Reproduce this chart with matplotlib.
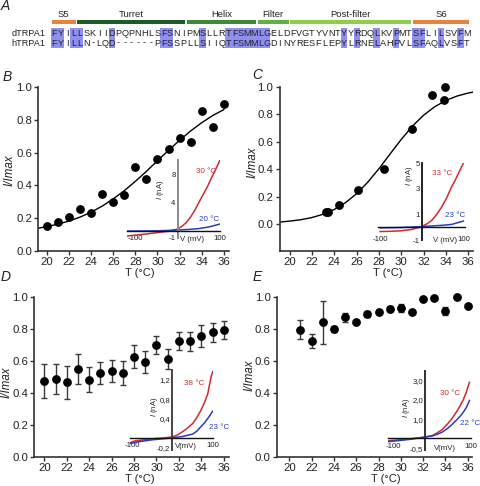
import matplotlib
matplotlib.use('Agg')
import matplotlib.pyplot as plt
from matplotlib.patches import Rectangle

plt.rcParams['font.family'] = ['Liberation Sans', 'DejaVu Sans']
plt.rcParams['mathtext.fontset'] = 'custom'
plt.rcParams['mathtext.rm'] = 'Liberation Sans'
plt.rcParams['mathtext.it'] = 'Liberation Sans:italic'

W, H = 480, 486

# ---------------- data ----------------
# Panel A: alignment
seq_names = ['dTRPA1', 'hTRPA1']
seq_d = 'FYILLSKIIDPQPNHLSFSNIPMSLLRTFSMMLGELDFVGTYVNTYYRDQLKVPMTSFLILSVFM'
seq_h = 'FYILLN-LQD------PFSSPLLSIIQTFSMMLGDINYRESFLEPYLRNELAHPVLSFAQLVSFT'
conserved = [1, 2, 4, 5, 10, 18, 19, 24, 28, 29, 30, 31, 32, 33, 34,
             46, 48, 51, 54, 57, 58, 61, 64]
domains = ['S5', 'Turret', 'Helix', 'Filter', 'Post-filter', 'S6']
domain_start = [1, 5, 22, 33, 38, 57]
domain_end = [4, 21, 32, 37, 56, 65]
domain_colors = ['#e8823c', '#1d5b2b', '#3d8a37', '#5fb143', '#8fce47', '#e8823c']

# Panel B
temp_b = [20, 21, 22, 23, 24, 25, 26, 27, 28, 29, 30, 31, 32, 33, 34, 35, 36]
norm_b = [0.155, 0.175, 0.208, 0.257, 0.234, 0.346, 0.297, 0.342, 0.515,
          0.442, 0.560, 0.623, 0.686, 0.664, 0.855, 0.754, 0.896]
fit_t_b = [19.2, 20, 21, 22, 23, 24, 25, 26, 27, 28, 29, 30, 31, 32, 33, 34, 35, 36]
fit_v_b = [0.139, 0.149, 0.164, 0.183, 0.207, 0.237, 0.274, 0.318, 0.368,
           0.425, 0.486, 0.550, 0.614, 0.675, 0.732, 0.782, 0.826, 0.862]
iv_v_b = [-120, -100, -75, -50, -25, 0, 10, 20, 30, 40, 50, 60, 70, 80, 90, 100]
iv_hot_b = [-0.75, -0.62, -0.46, -0.28, -0.10, 0.24, 0.62, 1.15, 1.9, 2.85,
            4.0, 5.1, 6.2, 7.5, 8.7, 10.0]
iv_v_b_cold = [-120, -50, 0, 25, 50, 75, 100]
iv_cold_b = [-0.05, -0.02, 0.1, 0.18, 0.3, 0.55, 0.95]

# Panel C
temp_c = [23.3, 23.4, 24.46, 26.16, 28.5, 30.95, 32.8, 33.8, 33.9]
norm_c = [0.088, 0.090, 0.136, 0.246, 0.404, 0.691, 0.944, 0.903, 1.0]
fit_t_c = [19.1, 20, 21, 22, 23, 24, 25, 26, 27, 28, 29, 30, 31, 32, 33, 34,
           35, 36, 36.4]
fit_v_c = [0.014, 0.021, 0.031, 0.047, 0.071, 0.106, 0.155, 0.221, 0.305,
           0.403, 0.511, 0.617, 0.714, 0.794, 0.856, 0.902, 0.934, 0.956, 0.962]
iv_v_c = [-100, -75, -50, -25, 0, 12, 24, 36, 48, 60, 72, 80, 88, 100]
iv_hot_c = [-0.34, -0.32, -0.28, -0.18, 0.05, 0.25, 0.53, 1.0, 1.58, 2.3,
            3.17, 3.65, 4.2, 5.0]
iv_v_c_cold = [-100, -50, 0, 25, 50, 72, 100]
iv_cold_c = [-0.05, -0.02, 0.05, 0.1, 0.15, 0.22, 0.48]

# Panel D
temp_d = [20, 21, 22, 23, 24, 25, 26, 27, 28, 29, 30, 31, 32, 33, 34, 35, 36]
norm_d = [0.475, 0.488, 0.467, 0.552, 0.483, 0.523, 0.537, 0.525, 0.627,
          0.593, 0.699, 0.610, 0.724, 0.724, 0.755, 0.778, 0.792]
err_d = [0.103, 0.093, 0.103, 0.093, 0.078, 0.068, 0.067, 0.073, 0.070,
         0.067, 0.057, 0.062, 0.057, 0.059, 0.067, 0.059, 0.058]
iv_v_d = [-105, -92, -60, -39, -20, 0, 13, 26, 39, 51, 61, 71, 80, 88, 92, 96, 100]
iv_hot_d = [-0.10, -0.06, -0.03, -0.01, 0.0, 0.02, 0.06, 0.13, 0.21, 0.30,
            0.42, 0.57, 0.73, 0.91, 1.08, 1.25, 1.36]
iv_v_d_cold = [-105, -92, -50, 0, 26, 51, 61, 71, 80, 88, 94, 100]
iv_cold_d = [-0.12, -0.09, -0.04, 0.0, 0.03, 0.08, 0.14, 0.23, 0.31, 0.40,
             0.47, 0.55]

# Panel E
temp_e = [21, 22, 23, 24, 25, 26, 27, 28, 29, 30, 31, 32, 33, 34, 35, 36]
norm_e = [0.795, 0.723, 0.842, 0.801, 0.871, 0.844, 0.891, 0.902, 0.924,
          0.930, 0.906, 0.986, 0.990, 0.910, 1.0, 0.943]
err_e = [0.060, 0.045, 0.134, 0.018, 0.026, 0.008, 0.020, 0.008, 0.020,
         0.027, 0.008, 0.006, 0.008, 0.026, 0.005, 0.006]
iv_v_e = [-115, -90, -58, -19, 0, 11, 25, 37, 50, 63, 72, 80, 88, 96]
iv_hot_e = [-0.12, -0.08, -0.02, 0.07, 0.15, 0.27, 0.45, 0.70, 1.0, 1.39,
            1.7, 2.0, 2.4, 2.9]
iv_cold_e = [-0.17, -0.12, -0.05, 0.07, 0.13, 0.20, 0.32, 0.48, 0.70, 0.96,
             1.15, 1.35, 1.6, 1.96]

temp_ticks = [20, 22, 24, 26, 28, 30, 32, 34, 36]
norm_ticks = [0.0, 0.2, 0.4, 0.6, 0.8, 1.0]

RED = '#d02a2e'
BLUE = '#2a3db8'
AX = '#333333'


def px_rect(left, right, top, bottom):
    return [left / W, 1 - bottom / H, (right - left) / W, (bottom - top) / H]


def main_axes(rect, xlim, ylim, ylab_x, ylab_y, xlab_x, xlab_gap):
    left, right, top, bottom = rect
    ax = fig.add_axes(px_rect(*rect))
    ax.patch.set_alpha(0)
    ax.set_xlim(xlim)
    ax.set_ylim(ylim)
    for s in ['top', 'right']:
        ax.spines[s].set_visible(False)
    for s in ['left', 'bottom']:
        ax.spines[s].set_linewidth(1.2)
        ax.spines[s].set_color(AX)
    ax.set_xticks(temp_ticks)
    ax.set_yticks(norm_ticks)
    ax.set_yticklabels([f'{v:.1f}' for v in norm_ticks])
    ax.tick_params(direction='out', length=3, width=1, color=AX,
                   labelsize=8.2, labelcolor='#222222')
    ax.tick_params(axis='x', pad=1.0)
    ax.tick_params(axis='y', pad=1.5)
    ax.set_xlabel('T (°C)', fontsize=8.0, color='#222222')
    ax.set_ylabel('I/Imax', fontsize=8.3, style='italic', color='#222222')
    ax.yaxis.set_label_coords(ylab_x, ylab_y)
    # xlabel top placed xlab_gap px under the axis line
    ax.xaxis.set_label_coords(xlab_x, -xlab_gap / (bottom - top))
    return ax


def inset_axes(rect, xlim, ylim, spine_x, yticks, ylabels, ycolor, xpad,
               lab_x, lab_y):
    ax = fig.add_axes(px_rect(*rect))
    ax.patch.set_visible(False)
    ax.set_xlim(xlim)
    ax.set_ylim(ylim)
    ax.spines['top'].set_visible(False)
    ax.spines['right'].set_visible(False)
    ax.spines['left'].set_position(('data', spine_x))
    ax.spines['bottom'].set_position(('data', 0))
    ax.spines['left'].set_color(ycolor)
    ax.spines['left'].set_linewidth(1.4)
    ax.spines['bottom'].set_color('#111111')
    ax.spines['bottom'].set_linewidth(1.0)
    ax.set_xticks([-100, 100])
    ax.set_xticklabels(['-100', '100'])
    ax.set_yticks(yticks)
    ax.set_yticklabels(ylabels)
    ax.tick_params(length=0, labelsize=5.6, colors='#222222')
    ax.tick_params(axis='x', pad=xpad)
    ax.tick_params(axis='y', pad=1.5)
    ax.text(lab_x, lab_y, r'$I$ (nA)', transform=ax.transAxes, rotation=90,
            ha='center', va='center', fontsize=5.5, color='#222222')
    return ax


fig = plt.figure(figsize=(W / 100, H / 100), dpi=100)

# ---------------- Panel A ----------------
ax_a = fig.add_axes([0, 1 - 56 / H, 1, 56 / H])
ax_a.set_xlim(1 - 54 / 6.45, 1 + (W - 54) / 6.45)
ax_a.set_ylim(56, 0)
ax_a.axis('off')

for name, start, end, col in zip(domains, domain_start, domain_end, domain_colors):
    ax_a.add_patch(Rectangle((start - 0.5 + 0.12, 20.5), end - start + 1 - 0.24, 4,
                             color=col, lw=0))
    ax_a.text((start + end) / 2, 14.5, name, ha='center', va='center',
              fontsize=6.8, color='#222222')

rows_y = [33, 43]
for name, seq, y in zip(seq_names, [seq_d, seq_h], rows_y):
    ax_a.text(-0.3, y, name, ha='right', va='center', fontsize=6.6, color='#222222')
    for pos in conserved:
        ax_a.add_patch(Rectangle((pos - 0.5, y - 4.6), 1, 9.2, color='#8e8ff0', lw=0))
    for i, ch in enumerate(seq):
        ax_a.text(i + 1, y, ch, ha='center', va='center', fontsize=6.6,
                  color='#222222')

# ---------------- Panel B ----------------
ax_b = main_axes((38.2, 229.3, 87, 251), (19.2, 36.5), (0, 1.0), -0.116, 0.49, 0.53, 17.0)
ax_b.plot(fit_t_b, fit_v_b, color='black', lw=1)
ax_b.plot(temp_b, norm_b, 'o', color='black', ms=5.3, clip_on=False)

in_b = inset_axes((127, 220, 160, 237.8), (-120, 100), (-1, 10), 0,
                  [-1, 4, 8], ['-1', '4', '8'], '#8a8a8a', 3.0, 0.36, 0.62)
in_b.plot(iv_v_b, iv_hot_b, color=RED, lw=1.1)
in_b.plot(iv_v_b_cold, iv_cold_b, color=BLUE, lw=1.1)
in_b.text(67, 8.4, '30 °C', color=RED, fontsize=5.8, ha='center', va='center')
in_b.text(74, 1.65, '20 °C', color=BLUE, fontsize=5.8, ha='center', va='center')
in_b.text(34, -1.17, 'V (mV)', fontsize=5.6, ha='center', va='center', color='#222222')

# ---------------- Panel C ----------------
ax_c = main_axes((279.5, 472.7, 87, 251.4), (19.1, 36.4), (-0.2, 1.0), -0.11, 0.54, 0.56, 16.6)
ax_c.plot(fit_t_c, fit_v_c, color='black', lw=1)
ax_c.plot(temp_c, norm_c, 'o', color='black', ms=5.3, clip_on=False)

in_c = inset_axes((378, 465, 163.3, 240), (-105, 104), (-1, 5), 0,
                  [-1, 1, 3, 5], ['-1', '1', '3', '5'], '#222222', 6.5, 0.36, 0.84)
in_c.plot(iv_v_c, iv_hot_c, color=RED, lw=1.1)
in_c.plot(iv_v_c_cold, iv_cold_c, color=BLUE, lw=1.1)
in_c.text(49, 4.2, '33 °C', color=RED, fontsize=5.8, ha='center', va='center')
in_c.text(80, 0.92, '23 °C', color=BLUE, fontsize=5.8, ha='center', va='center')
in_c.text(56, -1.0, 'V (mV)', fontsize=5.6, ha='center', va='center', color='#222222')

# ---------------- Panel D ----------------
ax_d = main_axes((34.2, 229.4, 296.7, 457.3), (19.1, 36.5), (0, 1.0), -0.112, 0.47, 0.54, 16.2)
ax_d.errorbar(temp_d, norm_d, yerr=err_d, fmt='o', color='black', ms=5.3,
              ecolor='#3a3a3a', elinewidth=1, capsize=2.3, capthick=1, clip_on=False)

in_d = inset_axes((130, 212.6, 370, 450), (-105, 100), (-0.25, 1.4), 0,
                  [-0.2, 0.4, 0.8, 1.2], ['-0,2', '0,4', '0,8', '1,2'], '#444444',
                  3.2, 0.30, 0.54)
in_d.plot(iv_v_d, iv_hot_d, color=RED, lw=1.1)
in_d.plot(iv_v_d_cold, iv_cold_d, color=BLUE, lw=1.1)
in_d.text(55, 1.12, '38 °C', color=RED, fontsize=5.8, ha='center', va='center')
in_d.text(115, 0.22, '23 °C', color=BLUE, fontsize=5.8, ha='center', va='center')
in_d.text(35, -0.18, 'V(mV)', fontsize=5.6, ha='center', va='center', color='#222222')

# ---------------- Panel E ----------------
ax_e = main_axes((277, 472.2, 296.7, 457.3), (18.9, 36.4), (0, 1.0), -0.11, 0.51, 0.56, 16.2)
ax_e.errorbar(temp_e, norm_e, yerr=err_e, fmt='o', color='black', ms=5.3,
              ecolor='#3a3a3a', elinewidth=1, capsize=2.3, capthick=1, clip_on=False)

in_e = inset_axes((388, 471, 370.7, 450), (-115, 100), (-0.6, 3.5), -18,
                  [-0.5, 1.0, 2.0, 3.0], ['-0,5', '1,0', '2,0', '3,0'], '#333333',
                  3.6, 0.22, 0.53)
in_e.plot(iv_v_e, iv_hot_e, color=RED, lw=1.1)
in_e.plot(iv_v_e, iv_cold_e, color=BLUE, lw=1.1)
in_e.text(46, 2.31, '30 °C', color=RED, fontsize=5.8, ha='center', va='center')
in_e.text(97, 0.79, '22 °C', color=BLUE, fontsize=5.8, ha='center', va='center')
in_e.text(33, -0.5, 'V(mV)', fontsize=5.6, ha='center', va='center', color='#222222')

# panel letters
for letter, (x, y) in zip('ABCDE', [(5, 6), (7, 77), (257, 75), (6, 277), (257, 277)]):
    fig.text(x / W, 1 - y / H, letter, fontsize=10, style='italic',
             ha='center', va='center', color='#222222')

fig.savefig('out.png', dpi=100)
